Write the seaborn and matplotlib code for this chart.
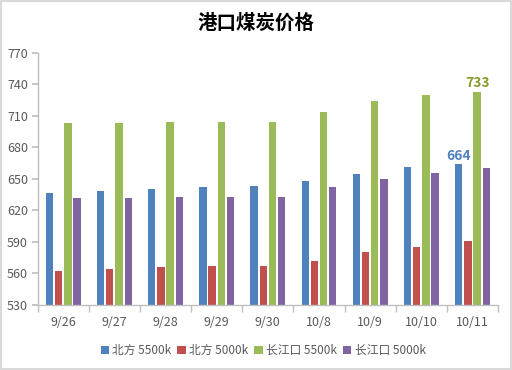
import matplotlib
matplotlib.use("Agg")
import matplotlib.pyplot as plt
import seaborn as sns
import pandas as pd
from matplotlib.patches import Rectangle

dates = ["9/26", "9/27", "9/28", "9/29", "9/30", "10/8", "10/9", "10/10", "10/11"]
north_5500 = [637, 638, 640, 642, 643, 648, 655, 661, 664]
north_5000 = [562, 564, 566, 567, 567, 572, 580, 585, 591]
cj_5500 = [703, 703, 704, 704, 704, 714, 724, 730, 733]
cj_5000 = [632, 632, 633, 633, 633, 642, 650, 656, 660]
series_names = ["北方 5500k", "北方 5000k", "长江口 5500k", "长江口 5000k"]
colors = ["#4F81BD", "#C0504D", "#9BBB59", "#8064A2"]
title = "港口煤炭价格"
yticks = [530, 560, 590, 620, 650, 680, 710, 740, 770]

rows = []
for name, vals in zip(series_names, [north_5500, north_5000, cj_5500, cj_5000]):
    for d, v in zip(dates, vals):
        rows.append({"date": d, "series": name, "value": v})
df = pd.DataFrame(rows)

sns.set_theme(style="white")
plt.rcParams["font.family"] = ["Noto Sans CJK SC", "DejaVu Sans"]

fig = plt.figure(figsize=(5.12, 3.7), dpi=100)
ax = fig.add_axes([0.0736, 0.1757, 0.8991, 0.6819])
sns.barplot(data=df, x="date", y="value", hue="series", order=dates,
            hue_order=series_names, palette=colors, width=0.72, gap=0.2,
            saturation=1, ax=ax, legend=True, linewidth=0)

ax.set_ylim(530, 770)
ax.set_xlim(-0.5, len(dates) - 0.5)
ax.set_yticks(yticks)
ax.set_xlabel("")
ax.set_ylabel("")
for s in ["top", "right"]:
    ax.spines[s].set_visible(False)
for s in ["left", "bottom"]:
    ax.spines[s].set_color("#BFBFBF")
    ax.spines[s].set_linewidth(1)
ax.tick_params(axis="y", which="major", length=4, color="#BFBFBF",
               labelsize=9, labelcolor="#595959", pad=3, direction="out", left=True)
ax.tick_params(axis="x", which="major", length=0, labelsize=9,
               labelcolor="#595959", pad=8)
ax.set_xticks([i - 0.5 for i in range(len(dates) + 1)], minor=True)
ax.tick_params(axis="x", which="minor", length=5, color="#BFBFBF",
               direction="out", bottom=True)

# data labels on last bars
n = len(dates)
ax.bar_label(ax.containers[0], labels=[""] * (n - 1) + [str(north_5500[-1])],
             color="#4F81BD", fontweight="bold", fontsize=10, padding=1)
ax.bar_label(ax.containers[2], labels=[""] * (n - 1) + [str(cj_5500[-1])],
             color="#8A9A2B", fontweight="bold", fontsize=10, padding=1)

handles, labels = ax.get_legend_handles_labels()
ax.legend(handles, labels, loc="center", bbox_to_anchor=(0.49, -0.18),
          ncol=4, frameon=False, fontsize=8.5, handlelength=0.7,
          handleheight=0.7, handletextpad=0.3, columnspacing=0.5,
          labelcolor="#595959")

fig.text(0.5, 0.938, title, ha="center", va="center", fontsize=14,
         fontweight="bold", color="#000000")

fig.patches.append(Rectangle((0.002, 0.003), 0.996, 0.994, transform=fig.transFigure,
                             fill=False, edgecolor="#D9D9D9", linewidth=1.5))

fig.savefig("out.png", dpi=100)
